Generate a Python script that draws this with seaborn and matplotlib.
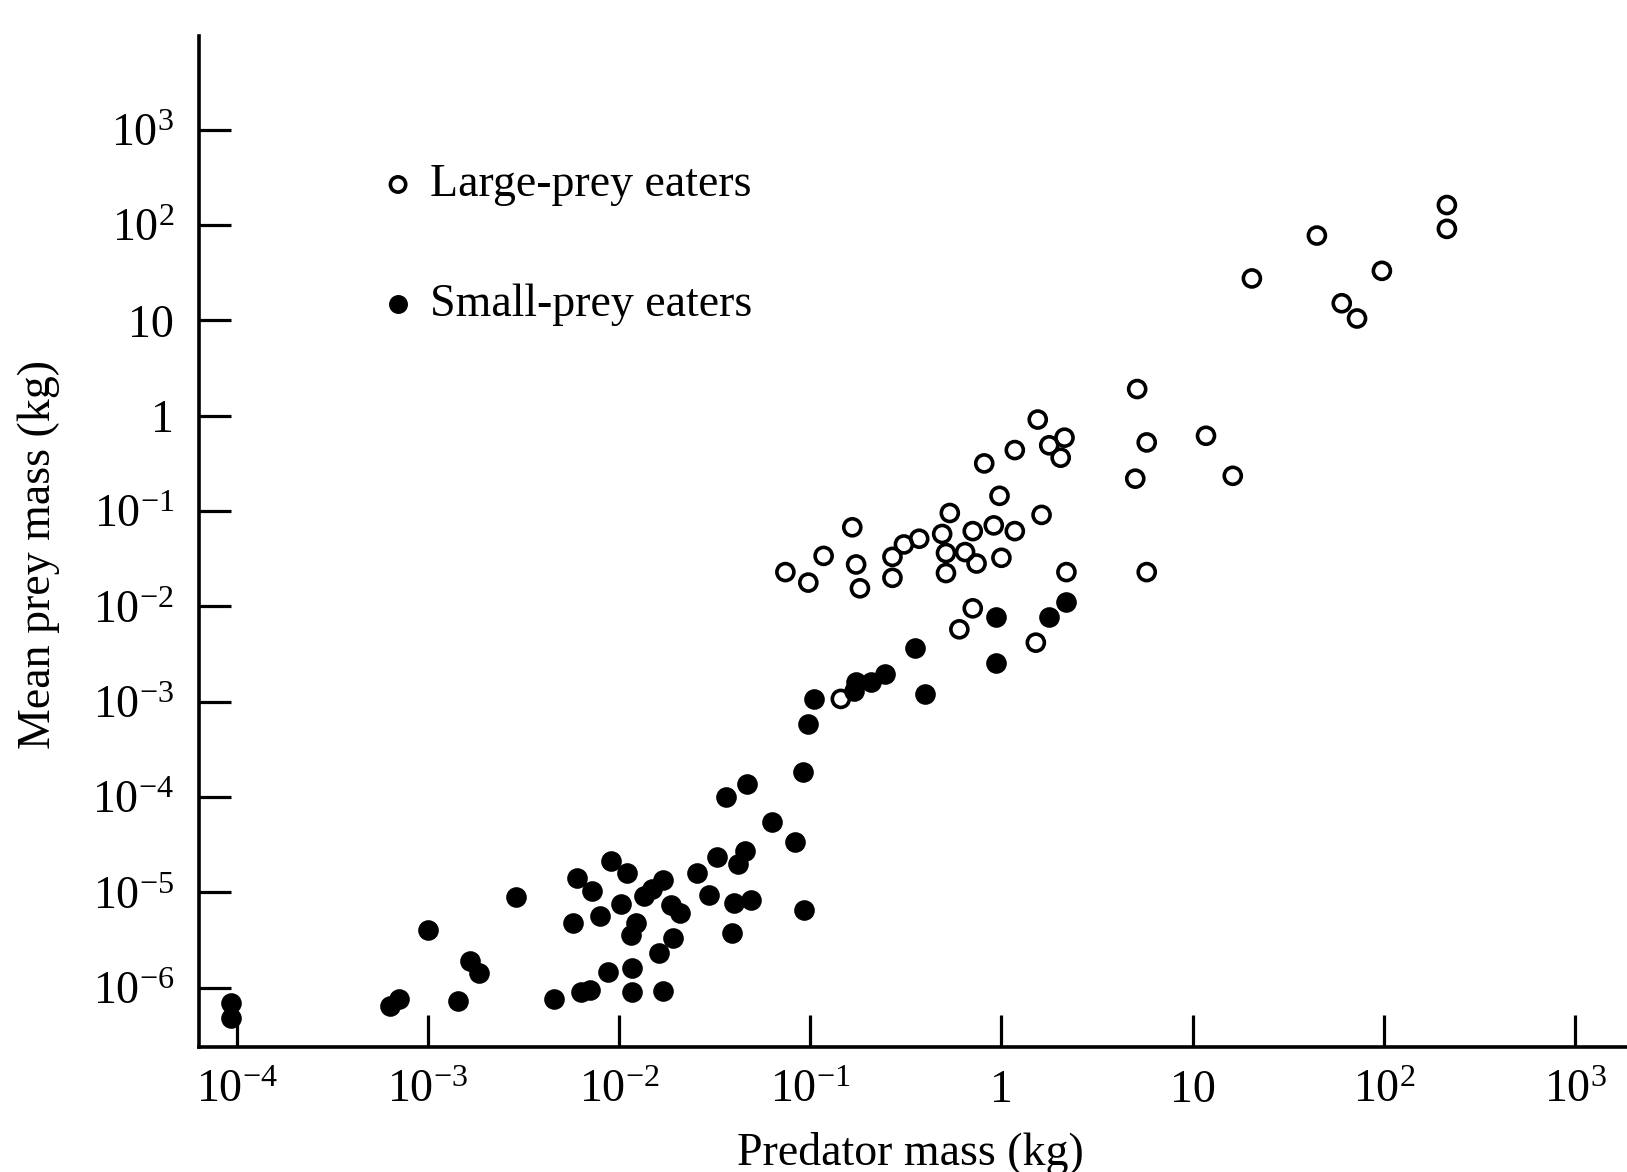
import numpy as np
import pandas as pd
import matplotlib
matplotlib.use("Agg")
import matplotlib.pyplot as plt
import seaborn as sns

# ---------------- data (log10 of mass in kg) ----------------
large_predator_log10 = [0.71, 0.19, 0.33, 0.25, 0.31, 0.07, 0.76, -0.09, 0.70, -0.01,
                        -0.27, 0.21, -0.78, -0.43, -0.51, -0.57, -0.31, -0.15, -0.04, 0.07,
                        -0.29, -0.19, -0.13, 0.00, -0.93, -0.76, -1.13, -1.01, -0.74, -0.57,
                        -0.29, 0.34, 0.76, -0.15, -0.22, 0.18, -0.84,
                        2.33, 2.33, 1.65, 1.99, 1.31, 1.78, 1.86, 1.07, 1.21]
large_prey_log10 = [0.28, -0.04, -0.23, -0.31, -0.44, -0.36, -0.28, -0.50, -0.66, -0.84,
                    -1.02, -1.04, -1.17, -1.29, -1.35, -1.48, -1.24, -1.21, -1.15, -1.21,
                    -1.44, -1.43, -1.55, -1.49, -1.47, -1.56, -1.64, -1.75, -1.81, -1.70,
                    -1.65, -1.64, -1.64, -2.02, -2.24, -2.38, -2.97,
                    2.21, 1.96, 1.89, 1.52, 1.44, 1.18, 1.02, -0.21, -0.63]

small_predator_log10 = [-4.03, -4.03, -3.20, -3.15, -3.00, -2.78, -2.73, -2.84, -2.54, -2.34,
                        -2.20, -2.15, -2.06, -1.93, -1.93, -1.77, -2.24, -2.10, -1.99, -1.91,
                        -1.94, -1.72, -1.79, -2.22, -2.14, -2.04, -1.96, -1.77, -1.83, -1.87,
                        -1.73, -1.68, -1.59, -1.49, -1.53, -1.41, -1.40, -1.31, -1.34, -1.38,
                        -1.03, -1.20, -1.08, -1.44, -1.33, -1.04, -1.01, -0.98, -0.76, -0.68,
                        -0.61, -0.45, -0.40, -0.03, -0.03, 0.25, 0.34, -0.77]
small_prey_log10 = [-6.16, -6.32, -6.19, -6.12, -5.39, -5.72, -5.85, -6.14, -5.05, -6.12,
                    -6.04, -6.02, -5.83, -5.79, -6.04, -6.03, -5.32, -5.25, -5.12, -5.32,
                    -5.45, -5.48, -5.64, -4.85, -4.99, -4.67, -4.80, -4.87, -4.96, -5.04,
                    -5.13, -5.22, -4.80, -4.63, -5.03, -5.43, -5.11, -5.08, -4.56, -4.70,
                    -5.18, -4.26, -4.47, -4.00, -3.86, -3.74, -3.23, -2.97, -2.79, -2.79,
                    -2.71, -2.44, -2.92, -2.11, -2.59, -2.11, -1.95, -2.89]

series_names = ["Large-prey eaters", "Small-prey eaters"]
x_tick_exponents = [-4, -3, -2, -1, 0, 1, 2, 3]
x_tick_labels = [r"$10^{-4}$", r"$10^{-3}$", r"$10^{-2}$", r"$10^{-1}$", "1", "10",
                 r"$10^{2}$", r"$10^{3}$"]
y_tick_exponents = [-6, -5, -4, -3, -2, -1, 0, 1, 2, 3]
y_tick_labels = [r"$10^{-6}$", r"$10^{-5}$", r"$10^{-4}$", r"$10^{-3}$", r"$10^{-2}$",
                 r"$10^{-1}$", "1", "10", r"$10^{2}$", r"$10^{3}$"]
x_label = "Predator mass (kg)"
y_label = "Mean prey mass (kg)"

# ---------------- style ----------------
sns.set_theme(style="white")
plt.rcParams.update({
    "font.family": ["Liberation Serif", "DejaVu Serif"],
    "mathtext.fontset": "custom",
    "mathtext.rm": "Liberation Serif",
    "mathtext.it": "Liberation Serif:italic",
    "mathtext.bf": "Liberation Serif:bold",
    "mathtext.default": "regular",
    "text.color": "black",
    "axes.labelcolor": "black",
    "xtick.color": "black",
    "ytick.color": "black",
})

FS = 33

df = pd.concat([
    pd.DataFrame({"predator": 10.0 ** np.array(large_predator_log10),
                  "prey": 10.0 ** np.array(large_prey_log10),
                  "group": series_names[0]}),
    pd.DataFrame({"predator": 10.0 ** np.array(small_predator_log10),
                  "prey": 10.0 ** np.array(small_prey_log10),
                  "group": series_names[1]}),
], ignore_index=True)

W, H = 1627, 1172
fig = plt.figure(figsize=(W / 100, H / 100), dpi=100)
ax_left, ax_right, ax_bottom, ax_top = 199, W, 1047, 36
ax = fig.add_axes([ax_left / W, 1 - ax_bottom / H,
                   (ax_right - ax_left) / W, (ax_bottom - ax_top) / H])

sns.scatterplot(data=df[df["group"] == series_names[0]], x="predator", y="prey",
                ax=ax, marker="o", s=150, facecolor="none", edgecolor="black",
                linewidth=2.6, label=series_names[0], zorder=3)
sns.scatterplot(data=df[df["group"] == series_names[1]], x="predator", y="prey",
                ax=ax, marker="o", s=150, color="black", edgecolor="black",
                linewidth=2.6, label=series_names[1], zorder=3)

ax.set_xscale("log")
ax.set_yscale("log")
ax.set_xlim(10 ** -4.197, 10 ** 3.272)
ax.set_ylim(10 ** -6.621, 10 ** 3.983)

ax.xaxis.set_major_locator(matplotlib.ticker.FixedLocator([10.0 ** e for e in x_tick_exponents]))
ax.xaxis.set_major_formatter(matplotlib.ticker.FixedFormatter(x_tick_labels))
ax.yaxis.set_major_locator(matplotlib.ticker.FixedLocator([10.0 ** e for e in y_tick_exponents]))
ax.yaxis.set_major_formatter(matplotlib.ticker.FixedFormatter(y_tick_labels))
ax.xaxis.set_minor_locator(matplotlib.ticker.NullLocator())
ax.yaxis.set_minor_locator(matplotlib.ticker.NullLocator())

ax.tick_params(axis="both", which="major", direction="in", length=23, width=2.3,
               labelsize=FS, bottom=True, left=True, top=False, right=False)
ax.tick_params(axis="x", pad=16)
ax.tick_params(axis="y", pad=18)

for side in ["top", "right"]:
    ax.spines[side].set_visible(False)
for side in ["left", "bottom"]:
    ax.spines[side].set_linewidth(2.6)
    ax.spines[side].set_color("black")

ax.set_xlabel(x_label, fontsize=FS)
ax.set_ylabel(y_label, fontsize=FS)
ax.xaxis.set_label_coords((910 - ax_left) / (ax_right - ax_left),
                          -(1132 - ax_bottom) / (ax_bottom - ax_top))
ax.yaxis.set_label_coords(-(199 - 60) / (ax_right - ax_left), 0.487)

leg = ax.legend(loc="upper left", bbox_to_anchor=(382 / W, 1 - 164 / H),
                bbox_transform=fig.transFigure, frameon=False, fontsize=FS,
                markerscale=0.9, handlelength=0.7, handletextpad=0.35,
                labelspacing=1.68, borderpad=0, borderaxespad=0)

fig.savefig("out.png", dpi=100, facecolor="white")
